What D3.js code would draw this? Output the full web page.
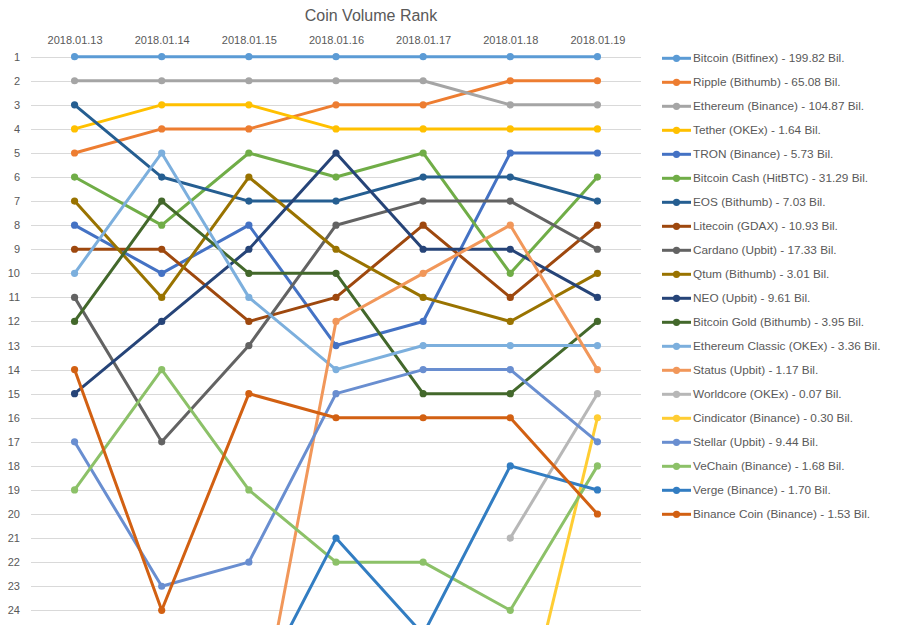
<!DOCTYPE html>
<html>
<head>
<meta charset="utf-8">
<script src="https://cdn.jsdelivr.net/npm/d3@7"></script>
<style>
  html, body { margin: 0; padding: 0; background: #fff; }
  svg { display: block; font-family: "Liberation Sans", Arial, sans-serif; }
  .line { fill: none; stroke-width: 3; stroke-linejoin: round; }
</style>
</head>
<body>
<div id="chart"></div>
<script>
// dates along the top axis
const dates = ['2018.01.13', '2018.01.14', '2018.01.15', '2018.01.16', '2018.01.17', '2018.01.18', '2018.01.19'];

// legend labels, same order as the series below
const coinLabels = [
  'Bitcoin (Bitfinex) - 199.82 Bil.',
  'Ripple (Bithumb) - 65.08 Bil.',
  'Ethereum (Binance) - 104.87 Bil.',
  'Tether (OKEx) - 1.64 Bil.',
  'TRON (Binance) - 5.73 Bil.',
  'Bitcoin Cash (HitBTC) - 31.29 Bil.',
  'EOS (Bithumb) - 7.03 Bil.',
  'Litecoin (GDAX) - 10.93 Bil.',
  'Cardano (Upbit) - 17.33 Bil.',
  'Qtum (Bithumb) - 3.01 Bil.',
  'NEO (Upbit) - 9.61 Bil.',
  'Bitcoin Gold (Bithumb) - 3.95 Bil.',
  'Ethereum Classic (OKEx) - 3.36 Bil.',
  'Status (Upbit) - 1.17 Bil.',
  'Worldcore (OKEx) - 0.07 Bil.',
  'Cindicator (Binance) - 0.30 Bil.',
  'Stellar (Upbit) - 9.44 Bil.',
  'VeChain (Binance) - 1.68 Bil.',
  'Verge (Binance) - 1.70 Bil.',
  'Binance Coin (Binance) - 1.53 Bil.'
];

// rank per day (null = not in the list that day)
const bitcoinRank      = [1, 1, 1, 1, 1, 1, 1];
const rippleRank       = [5, 4, 4, 3, 3, 2, 2];
const ethereumRank     = [2, 2, 2, 2, 2, 3, 3];
const tetherRank       = [4, 3, 3, 4, 4, 4, 4];
const tronRank         = [8, 10, 8, 13, 12, 5, 5];
const bitcoinCashRank  = [6, 8, 5, 6, 5, 10, 6];
const eosRank          = [3, 6, 7, 7, 6, 6, 7];
const litecoinRank     = [9, 9, 12, 11, 8, 11, 8];
const cardanoRank      = [11, 17, 13, 8, 7, 7, 9];
const qtumRank         = [7, 11, 6, 9, 11, 12, 10];
const neoRank          = [15, 12, 9, 5, 9, 9, 11];
const bitcoinGoldRank  = [12, 7, 10, 10, 15, 15, 12];
const ethClassicRank   = [10, 5, 11, 14, 13, 13, 13];
const statusRank       = [null, null, 31, 12, 10, 8, 14];
const worldcoreRank    = [null, null, null, null, null, 21, 15];
const cindicatorRank   = [null, null, null, null, null, 31, 16];
const stellarRank      = [17, 23, 22, 15, 14, 14, 17];
const vechainRank      = [19, 14, 19, 22, 22, 24, 18];
const vergeRank        = [null, null, 28, 21, 25, 18, 19];
const binanceCoinRank  = [14, 24, 15, 16, 16, 16, 20];

// y axis tick labels (the rest of the axis falls below the picture)
const rankTicks = d3.range(1, 25);

const seriesColors = [
  '#5B9BD5', '#ED7D31', '#A5A5A5', '#FFC000', '#4472C4', '#70AD47',
  '#255E91', '#9E480E', '#636363', '#997300', '#264478', '#43682B',
  '#7CAFDD', '#F1975A', '#B7B7B7', '#FFCD33', '#698ED0', '#8CC168',
  '#327DC2', '#D26012'
];

let allRanks = [
  bitcoinRank, rippleRank, ethereumRank, tetherRank, tronRank, bitcoinCashRank,
  eosRank, litecoinRank, cardanoRank, qtumRank, neoRank, bitcoinGoldRank,
  ethClassicRank, statusRank, worldcoreRank, cindicatorRank, stellarRank,
  vechainRank, vergeRank, binanceCoinRank
];

let series = coinLabels.map(function(label, i) {
  return {
    label: label,
    color: seriesColors[i],
    values: allRanks[i].map((r, j) => ({date: dates[j], rank: r}))
  };
});

let width = 902, height = 625;
let textColor = '#595959';

let svg = d3.select('#chart').append('svg')
  .attr('width', width)
  .attr('height', height);

let x = d3.scalePoint()
  .domain(dates)
  .range([31, 641])
  .padding(0.5);

let y = d3.scaleLinear()
  .domain([1, 24])
  .range([56.7, 610.3]);

// title
svg.append('text')
  .attr('x', 371)
  .attr('y', 21)
  .attr('text-anchor', 'middle')
  .style('font-size', '16px')
  .style('fill', textColor)
  .text('Coin Volume Rank');

// horizontal gridlines
svg.append('g')
  .selectAll('line')
  .data(rankTicks)
  .enter().append('line')
  .attr('x1', 31)
  .attr('x2', 641)
  .attr('y1', d => Math.round(y(d)) + 0.5)
  .attr('y2', d => Math.round(y(d)) + 0.5)
  .style('stroke', '#D9D9D9')
  .style('stroke-width', 1);

// rank labels (reversed axis, 1 on top)
let yAxis = svg.append('g')
  .attr('transform', 'translate(26,0)')
  .call(d3.axisLeft(y).tickValues(rankTicks).tickSize(0).tickPadding(6).tickFormat(d3.format('d')));
yAxis.select('.domain').remove();
yAxis.selectAll('text')
  .style('font-family', '"Liberation Sans", Arial, sans-serif')
  .style('font-size', '11px')
  .style('fill', textColor);

// date labels across the top
let xAxis = svg.append('g')
  .attr('transform', 'translate(0,44)')
  .call(d3.axisTop(x).tickSize(0).tickPadding(0));
xAxis.select('.domain').remove();
xAxis.selectAll('text')
  .style('font-family', '"Liberation Sans", Arial, sans-serif')
  .style('font-size', '11px')
  .style('fill', textColor);

let line = d3.line()
  .defined(d => d.rank !== null)
  .x(d => x(d.date))
  .y(d => y(d.rank));

// lines + markers, later series drawn on top
series.forEach(function(s) {
  let g = svg.append('g');
  g.append('path')
    .datum(s.values)
    .attr('class', 'line')
    .style('stroke', s.color)
    .attr('d', line);
  g.selectAll('circle')
    .data(s.values.filter(d => d.rank !== null))
    .enter().append('circle')
    .attr('cx', d => x(d.date))
    .attr('cy', d => y(d.rank))
    .attr('r', 3.6)
    .style('fill', s.color);
});

// legend
let legend = svg.append('g');
let legendItem = legend.selectAll('g')
  .data(series)
  .enter().append('g')
  .attr('transform', (d, i) => 'translate(0,' + (58.3 + i * 24) + ')');

legendItem.append('line')
  .attr('x1', 662)
  .attr('x2', 691)
  .style('stroke', d => d.color)
  .style('stroke-width', 3);
legendItem.append('circle')
  .attr('cx', 676.5)
  .attr('r', 3.6)
  .style('fill', d => d.color);
legendItem.append('text')
  .attr('x', 693)
  .attr('dy', '0.35em')
  .style('font-size', '11.8px')
  .style('fill', textColor)
  .text(d => d.label);
</script>
</body>
</html>
